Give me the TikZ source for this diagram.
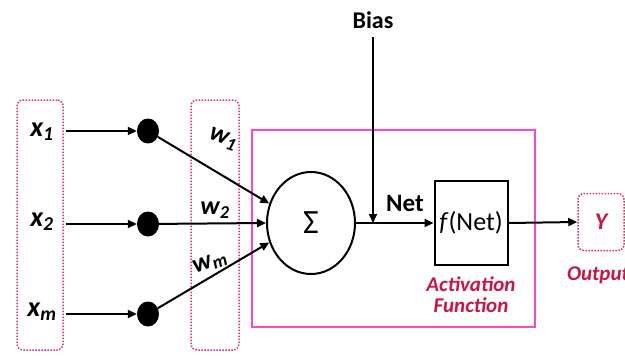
\documentclass[tikz,border=0pt]{standalone}
\usepackage{fontspec}
\setmainfont{Carlito}
\usetikzlibrary{arrows.meta,shapes.geometric}
\definecolor{crim}{RGB}{200,20,70}
\definecolor{dotpink}{RGB}{225,50,90}
\definecolor{mag}{RGB}{255,70,200}
\tikzset{
  dotbox/.style={draw=dotpink, line width=1.5pt, dash pattern=on 1.5pt off 1.5pt, rounded corners=6pt},
  arr/.style={line width=2pt, -{Triangle[length=9pt,width=8pt]}},
  ln/.style={line width=2pt},
  dot/.style={ellipse, fill=black, minimum width=22pt, minimum height=25pt, inner sep=0pt},
  lab/.style={font=\fontsize{28}{30}\selectfont\bfseries\itshape},
  wlab/.style={font=\fontsize{26}{28}\selectfont\bfseries\itshape},
  redlab/.style={text=crim, font=\fontsize{21}{23}\selectfont\bfseries\itshape, align=center},
}
\begin{document}
\begin{tikzpicture}[x=1pt,y=-1pt]
\useasboundingbox (0,0) rectangle (625,356);
% boxes
\node[dotbox, minimum width=46pt, minimum height=250pt] (inbox) at (40,225) {};
\node[dotbox, minimum width=48pt, minimum height=250pt] (wbox) at (215,225) {};
\draw[mag, line width=1.5pt] (252,130) rectangle (535,327);
% inputs
\node[lab] (x1) at (42,132) {x\textsubscript{1}};
\node[lab] (x2) at (42,222) {x\textsubscript{2}};
\node[lab] (xm) at (42,312) {x\textsubscript{m}};
\node[dot] (d1) at (148,131) {};
\node[dot] (d2) at (148,224) {};
\node[dot] (dm) at (148,314) {};
\coordinate (a1) at (66,131);
\coordinate (a2) at (66,224);
\coordinate (am) at (66,314);
\draw[arr] (a1) -- (d1.west);
\draw[arr] (a2) -- (d2.west);
\draw[arr] (am) -- (dm.west);
% sum
\node[draw, ellipse, line width=2pt, minimum width=88pt, minimum height=102pt, inner sep=0pt,
      font=\fontsize{34}{36}\selectfont] (sum) at (311,223) {Σ};
\draw[arr] (d1) -- (sum.155);
\draw[arr] (d2) -- (sum.west);
\draw[arr] (dm) -- (sum.205);
\node[wlab, rotate=-20] (w1) at (223,139) {w\textsubscript{1}};
\node[wlab] (w2) at (215,210) {w\textsubscript{2}};
\node[wlab, rotate=20] (wm) at (210,263) {w\textsubscript{m}};
% bias
\node[font=\fontsize{24}{26}\selectfont\bfseries] (bias) at (373,20) {Bias};
\coordinate (bj) at (373,223);
\draw[arr] (bias.south) ++(0,5) -- (bj);
% activation
\node[draw, line width=2pt, minimum width=73pt, minimum height=84pt, inner sep=0pt,
      font=\fontsize{26}{28}\selectfont] (act) at (471,223) {\textit{f}(Net)};
\draw[ln] (sum.east) -- (bj);
\draw[arr] (bj) -- (act.west);
\node[font=\fontsize{25}{27}\selectfont\bfseries] (net) at (405,203) {Net};
\node[redlab] (actlab) at (471,295) {Activation\\[-2pt]Function};
% output
\node[dotbox, minimum width=46pt, minimum height=57pt, text=crim,
      font=\fontsize{24}{26}\selectfont\bfseries\itshape] (y) at (601,222) {Y};
\draw[arr] (act.east) -- (y.west);
\node[redlab] (outlab) at (598,275) {Output};
\end{tikzpicture}
\end{document}
